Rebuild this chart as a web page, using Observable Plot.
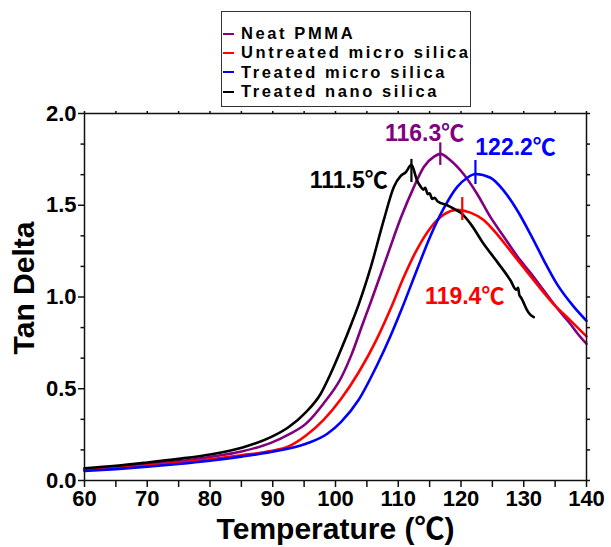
<!DOCTYPE html>
<html>
<head>
<meta charset="utf-8">
<script src="https://cdn.jsdelivr.net/npm/d3@7"></script>
<script src="https://cdn.jsdelivr.net/npm/@observablehq/plot@0.6"></script>
<style>
  html, body { margin: 0; padding: 0; background: #fff; }
  #wrap { position: relative; width: 611px; height: 547px; overflow: hidden; }
  #legend { position: absolute; left: 221px; top: 11px; width: 250px; height: 96px;
            border: 1.5px solid #333; box-sizing: border-box; background: #fff; }
  .row { position: absolute; left: 0; height: 20px; display: flex; align-items: center; }
  .row .sw { width: 11px; height: 2px; margin-left: 1px; }
  .row .lb { margin-left: 7px; font: bold 16.5px "Liberation Sans", Arial, sans-serif; letter-spacing: 2.6px; color: #000; white-space: nowrap; }
  svg text { font-family: "Liberation Sans", Arial, "Noto Sans CJK JP", sans-serif; }
</style>
</head>
<body>
<div id="wrap"><div id="legend"></div></div>
<script>
// ---- data ----
const seriesNames = ["Neat PMMA", "Untreated micro silica", "Treated micro silica", "Treated nano silica"];
const seriesColors = ["#800080", "#ff0000", "#0000ff", "#000000"];

const neatT = [60, 65, 70, 75, 80, 85, 89.7, 92.5, 95.3, 98.1, 100.9, 102.6, 104.3, 105.6, 108.2, 110.4, 112.5, 114.1, 115.7, 116.7, 118.3, 120.4, 122.6, 124.7, 126.8, 129.0, 131.1, 133.2, 135.3, 137.5, 138.6, 140];
const neatV = [0.063, 0.075, 0.088, 0.104, 0.128, 0.158, 0.205, 0.25, 0.31, 0.42, 0.56, 0.69, 0.85, 0.97, 1.22, 1.43, 1.6, 1.71, 1.765, 1.78, 1.745, 1.67, 1.56, 1.435, 1.33, 1.22, 1.13, 1.035, 0.94, 0.85, 0.80, 0.745];

const untreatedT = [60, 65, 70, 75, 80, 85, 89.7, 92.5, 95.3, 98.1, 100.9, 103.7, 106.5, 108.9, 110.9, 113.0, 115.1, 117.3, 119.4, 121.5, 123.6, 125.8, 127.9, 130.0, 132.1, 134.8, 137.5, 140];
const untreatedV = [0.058, 0.07, 0.082, 0.097, 0.116, 0.138, 0.16, 0.185, 0.245, 0.33, 0.445, 0.59, 0.765, 0.945, 1.11, 1.26, 1.375, 1.45, 1.475, 1.46, 1.42, 1.34, 1.25, 1.16, 1.07, 0.96, 0.87, 0.785];

const treatedMicroT = [60, 65, 70, 75, 80, 85, 89.7, 95.3, 98.7, 100.9, 103.7, 106.5, 108.8, 110.5, 113.0, 115.1, 117.2, 119.4, 121.0, 122.3, 124.7, 126.8, 129.0, 131.1, 133.2, 135.3, 137.9, 140];
const treatedMicroV = [0.052, 0.062, 0.075, 0.09, 0.108, 0.13, 0.155, 0.2, 0.255, 0.32, 0.44, 0.62, 0.79, 0.93, 1.15, 1.33, 1.48, 1.6, 1.65, 1.67, 1.65, 1.58, 1.47, 1.34, 1.2, 1.07, 0.95, 0.87];

const nanoT = [60, 65, 70, 75, 80, 85.2, 89.7, 92.5, 95.3, 97.6, 99.2, 100.9, 102.6, 103.7, 105.6, 107.7, 109.3, 110.4, 111.2, 112.1, 113.0, 113.6, 114.0, 114.3, 114.7, 115.0, 115.4, 115.8, 116.3, 117.8, 118.9, 119.9, 121.5, 123.6, 125.8, 127.9, 128.8, 129.1, 129.3, 129.6, 129.9, 130.5, 131.0, 131.6];
const nanoV = [0.067, 0.08, 0.098, 0.118, 0.142, 0.18, 0.236, 0.29, 0.373, 0.47, 0.58, 0.715, 0.86, 0.96, 1.16, 1.42, 1.6, 1.66, 1.68, 1.72, 1.635, 1.60, 1.585, 1.595, 1.56, 1.565, 1.535, 1.54, 1.52, 1.50, 1.48, 1.46, 1.40, 1.29, 1.19, 1.09, 1.04, 1.05, 1.01, 0.995, 0.975, 0.93, 0.905, 0.89];

// peak annotations
const peakLabels = ["116.3℃", "119.4℃", "122.2℃", "111.5℃"];
const peakT = [116.7, 120.2, 122.3, 112.1];
const peakLow = [1.717, 1.417, 1.613, 1.624];
const peakHigh = [1.84, 1.542, 1.744, 1.75];
const labelT = [114.2, 120.6, 128.7, 102.1];
const labelV = [1.89, 1.0, 1.815, 1.635];

// axes
const xTicks = [60, 70, 80, 90, 100, 110, 120, 130, 140];
const xMinorTicks = [65, 75, 85, 95, 105, 115, 125, 135];
const yTicks = [0.0, 0.5, 1.0, 1.5, 2.0];
const yMinorTicks = [1/6, 2/6, 4/6, 5/6, 7/6, 8/6, 10/6, 11/6];
const xLabel = "Temperature (℃)";
const yLabel = "Tan Delta";

// ---- build table ----
const seriesT = [neatT, untreatedT, treatedMicroT, nanoT];
const seriesV = [neatV, untreatedV, treatedMicroV, nanoV];
const rows = [];
seriesNames.forEach((name, i) => {
  seriesT[i].forEach((t, j) => rows.push({series: name, t, v: seriesV[i][j]}));
});
const peaks = peakLabels.map((label, i) => ({
  label, color: seriesColors[i], t: peakT[i], lo: peakLow[i], hi: peakHigh[i], lt: labelT[i], lv: labelV[i]
}));
const allYTicks = [...yTicks, ...yMinorTicks];
const allXTicks = [...xTicks, ...xMinorTicks];

const chart = Plot.plot({
  width: 611,
  height: 547,
  marginLeft: 84,
  marginRight: 25,
  marginTop: 113,
  marginBottom: 67,
  x: {domain: [60, 140]},
  y: {domain: [0, 2]},
  color: {domain: seriesNames, range: seriesColors},
  marks: [
    Plot.line(rows, {x: "t", y: "v", z: "series", stroke: "series", strokeWidth: 2.6, curve: "monotone-x"}),
    Plot.ruleX(peaks, {x: "t", y1: "lo", y2: "hi", stroke: "color", strokeWidth: 2.2}),
    Plot.text(peaks, {x: "lt", y: "lv", text: "label", fill: "color", fontSize: 23, fontWeight: "bold", textAnchor: "middle", lineAnchor: "middle"}),
    Plot.frame({stroke: "#111", strokeWidth: 1.5}),
    Plot.axisX({ticks: xTicks, tickSize: 7, tickPadding: 3, fontSize: 22, fontWeight: "bold", label: null, tickFormat: d => String(d), stroke: "#111", strokeWidth: 1.5, fill: "#000"}),
    Plot.axisX({ticks: xMinorTicks, tickSize: 7, text: null, label: null, stroke: "#111", strokeWidth: 1.5}),
    Plot.axisX({anchor: "top", ticks: allXTicks, tickSize: 3, text: null, label: null, stroke: "#111", strokeWidth: 1.5}),
    Plot.axisY({ticks: yTicks, tickSize: 6, tickPadding: 2, fontSize: 22, fontWeight: "bold", label: null, tickFormat: d3.format(".1f"), stroke: "#111", strokeWidth: 1.5, fill: "#000"}),
    Plot.axisY({ticks: yMinorTicks, tickSize: 3.5, text: null, label: null, stroke: "#111", strokeWidth: 1.5}),
    Plot.axisY({anchor: "right", ticks: allYTicks, tickSize: 3, text: null, label: null, stroke: "#111", strokeWidth: 1.5}),
    Plot.text([yLabel], {frameAnchor: "left", text: d => d, rotate: -90, dx: -51, dy: -9, fontSize: 30, fontWeight: "bold", textAnchor: "middle", lineAnchor: "bottom", fill: "#000"}),
    Plot.text([xLabel], {frameAnchor: "bottom", text: d => d, dy: 58, fontSize: 30, fontWeight: "bold", textAnchor: "middle", lineAnchor: "bottom", fill: "#000"})
  ]
});
document.getElementById("wrap").prepend(chart);

// legend (row centres relative to the box)
const legend = document.getElementById("legend");
const rowCenters = [23, 42, 61.5, 81];
seriesNames.forEach((name, i) => {
  const r = document.createElement("div");
  r.className = "row";
  r.style.top = (rowCenters[i] - 10 - 1.5) + "px";
  const sw = document.createElement("div");
  sw.className = "sw";
  sw.style.background = seriesColors[i];
  const lb = document.createElement("span");
  lb.className = "lb";
  lb.textContent = name;
  r.appendChild(sw); r.appendChild(lb);
  legend.appendChild(r);
});
</script>
</body>
</html>
